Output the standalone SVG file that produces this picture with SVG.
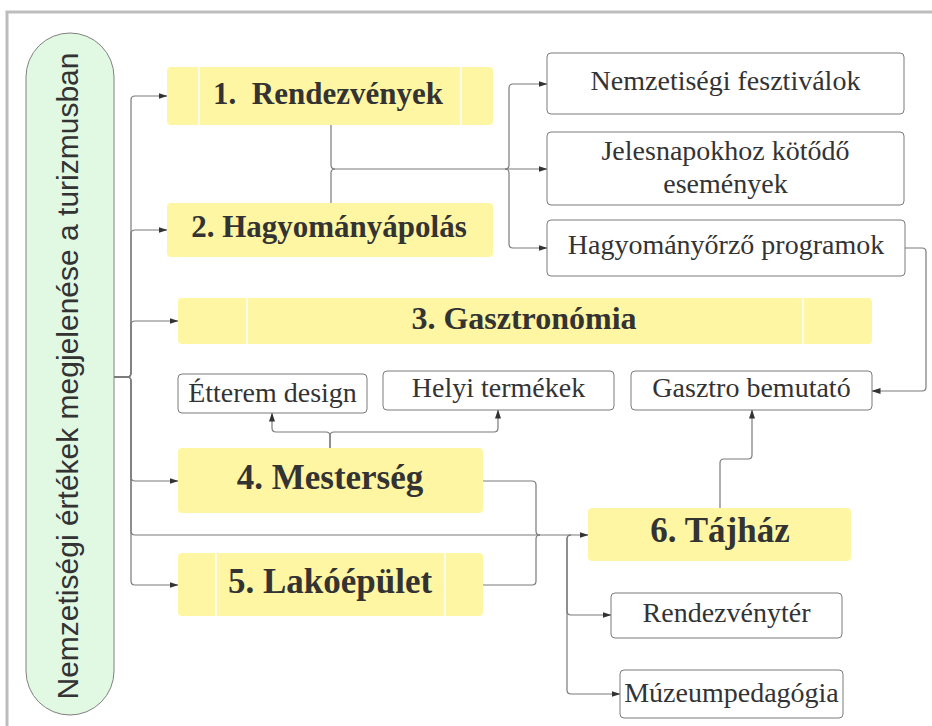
<svg xmlns="http://www.w3.org/2000/svg" width="932" height="726" viewBox="0 0 932 726">
<defs>
<marker id="ah" markerWidth="9" markerHeight="7" refX="8.5" refY="3.5" orient="auto" markerUnits="userSpaceOnUse">
<path d="M0,0.5 L9,3.5 L0,6.5 Z" fill="#333"/>
</marker>
<style>
.frame{fill:none;stroke:#bdbdbd;stroke-width:3}
.pill{fill:#e1f9e3;stroke:#808080;stroke-width:1}
.ybox{fill:#fff6a3}
.div{stroke:#ffffff;stroke-width:1.5}
.wbox{fill:#ffffff;stroke:#7a7a7a;stroke-width:1}
.yt{font-family:"Liberation Serif",serif;font-weight:bold;fill:#333;text-anchor:middle}
.wt{font-family:"Liberation Serif",serif;font-size:28px;fill:#333;text-anchor:middle}
.pt{font-family:"Liberation Sans",Arial,sans-serif;font-size:30px;fill:#333;text-anchor:middle}
.c{fill:none;stroke:#7a7a7a;stroke-width:1.2}
.ca{fill:none;stroke:#7a7a7a;stroke-width:1.2;marker-end:url(#ah)}
</style>
</defs>
<rect class="frame" x="7" y="12" width="940" height="730"/>

<g id="root">
<rect class="pill" x="26" y="33" width="88" height="682" rx="44" ry="44"/>
<text class="pt" transform="translate(78,376) rotate(-90)">Nemzetiségi értékek megjelenése a turizmusban</text>
</g>

<g id="connectors">
<path class="ca" d="M114,377 H127 Q131,377 131,373 V100 Q131,96 135,96 H167"/>
<path class="ca" d="M114,377 H127 Q131,377 131,373 V234 Q131,230 135,230 H167"/>
<path class="ca" d="M114,377 H127 Q131,377 131,373 V325 Q131,321 135,321 H178"/>
<path class="ca" d="M114,377 H127 Q131,377 131,381 V477 Q131,481 135,481 H178"/>
<path class="ca" d="M114,377 H127 Q131,377 131,381 V531 Q131,535 135,535 H588"/>
<path class="ca" d="M114,377 H127 Q131,377 131,381 V581 Q131,585 135,585 H178"/>

<path class="c" d="M331,125 V165 Q331,169 335,169 H509"/>
<path class="c" d="M331,204 V173 Q331,169 335,169"/>
<path class="ca" d="M505,169 Q509,169 509,165 V88 Q509,84 513,84 H547"/>
<path class="ca" d="M509,169 H547"/>
<path class="ca" d="M505,169 Q509,169 509,173 V244 Q509,248 513,248 H547"/>

<path class="ca" d="M905,248 H922 Q926,248 926,252 V387 Q926,391 922,391 H872"/>

<path class="ca" d="M330,449 V436 Q330,432 326,432 H276 Q272,432 272,428 V413"/>
<path class="ca" d="M330,449 V436 Q330,432 334,432 H494 Q498,432 498,428 V410"/>

<path class="c" d="M483,481 H532 Q536,481 536,485 V531 Q536,535 540,535"/>
<path class="c" d="M483,585 H532 Q536,585 536,581 V539 Q536,535 540,535"/>
<path class="ca" d="M571,535 Q567,535 567,539 V611 Q567,615 571,615 H611"/>
<path class="ca" d="M571,535 Q567,535 567,539 V690 Q567,694 571,694 H620"/>

<path class="ca" d="M720,508 V463 Q720,459 724,459 H748 Q752,459 752,455 V410"/>
</g>

<g id="n1">
<rect class="ybox" x="167" y="67" width="326" height="58" rx="4"/>
<line class="div" x1="199" y1="67" x2="199" y2="125"/>
<line class="div" x1="461" y1="67" x2="461" y2="125"/>
<text class="yt" x="328" y="104" font-size="31" style="white-space:pre">1.  Rendezvények</text>
</g>
<g id="n2">
<rect class="ybox" x="167" y="203" width="326" height="54" rx="4"/>
<text class="yt" x="329" y="237" font-size="31">2. Hagyományápolás</text>
</g>
<g id="n3">
<rect class="ybox" x="178" y="298" width="694" height="46" rx="4"/>
<line class="div" x1="247" y1="298" x2="247" y2="344"/>
<line class="div" x1="803" y1="298" x2="803" y2="344"/>
<text class="yt" x="524" y="329" font-size="32">3. Gasztronómia</text>
</g>
<g id="n4">
<rect class="ybox" x="178" y="448" width="305" height="65" rx="4"/>
<text class="yt" x="330" y="489" font-size="35">4. Mesterség</text>
</g>
<g id="n5">
<rect class="ybox" x="178" y="553" width="305" height="63" rx="4"/>
<line class="div" x1="216" y1="553" x2="216" y2="616"/>
<line class="div" x1="445" y1="553" x2="445" y2="616"/>
<text class="yt" x="330" y="593" font-size="35">5. Lakóépület</text>
</g>
<g id="n6">
<rect class="ybox" x="588" y="508" width="263" height="53" rx="4"/>
<text class="yt" x="720" y="542" font-size="35">6. Tájház</text>
</g>

<g id="w1">
<rect class="wbox" x="547" y="53" width="357" height="61" rx="4"/>
<text class="wt" x="725.5" y="90">Nemzetiségi fesztiválok</text>
</g>
<g id="w2">
<rect class="wbox" x="547" y="132" width="357" height="73" rx="4"/>
<text class="wt" x="725.5" y="160">Jelesnapokhoz kötődő</text>
<text class="wt" x="725.5" y="193">események</text>
</g>
<g id="w3">
<rect class="wbox" x="547" y="220" width="358" height="56" rx="4"/>
<text class="wt" x="726" y="254">Hagyományőrző programok</text>
</g>
<g id="w4">
<rect class="wbox" x="178" y="374" width="189" height="39" rx="4"/>
<text class="wt" x="272.5" y="402">Étterem design</text>
</g>
<g id="w5">
<rect class="wbox" x="383" y="371" width="231" height="39" rx="4"/>
<text class="wt" x="498.5" y="397">Helyi termékek</text>
</g>
<g id="w6">
<rect class="wbox" x="631" y="371" width="241" height="39" rx="4"/>
<text class="wt" x="751.5" y="397">Gasztro bemutató</text>
</g>
<g id="w7">
<rect class="wbox" x="611" y="593" width="231" height="45" rx="4"/>
<text class="wt" x="726.5" y="622">Rendezvénytér</text>
</g>
<g id="w8">
<rect class="wbox" x="620" y="670" width="223" height="48" rx="4"/>
<text class="wt" x="731.5" y="702">Múzeumpedagógia</text>
</g>
</svg>
